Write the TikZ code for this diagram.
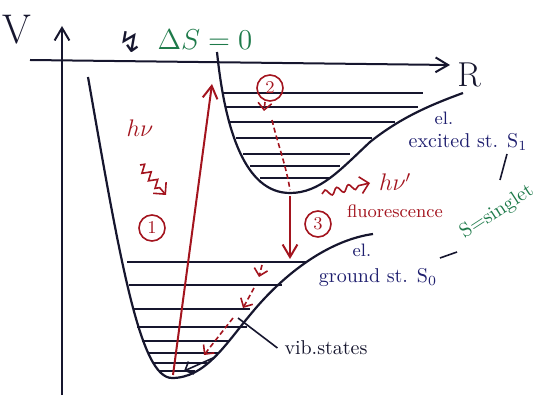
\documentclass[tikz,border=0pt]{standalone}
\usepackage{fontspec}
\usepackage{tikz}
\usetikzlibrary{arrows.meta,decorations.pathmorphing}
\newfontfamily\symbfont{DejaVu Sans}
\definecolor{pen}{HTML}{16162E}
\definecolor{inkred}{HTML}{A3141E}
\definecolor{inkgreen}{HTML}{1E7A4A}
\definecolor{inkblue}{HTML}{1E1E6E}

\begin{document}
\begin{tikzpicture}[x=0.5pt, y=-0.5pt,
  curve/.style={draw=pen, line width=1.1pt},
  vib/.style={draw=pen, line width=0.8pt},
  arr/.style={-{Straight Barb[length=2.2mm, width=2.6mm]}, line width=1pt},
  relax/.style={inkred, line width=0.8pt, dash pattern=on 2.5pt off 1.5pt},
  num/.style={draw=inkred, circle, text=inkred, line width=0.8pt, inner sep=0.5pt, minimum size=13pt, font=\small},
  lbl/.style={text=inkblue, font=\normalsize},
  wave/.style={decorate, decoration={snake, amplitude=1.6pt, segment length=6pt, post length=4pt}}]
\useasboundingbox (0,0) rectangle (557,406);
\coordinate (v0) at (62,395); \coordinate (vtop) at (62,26);
\coordinate (r0) at (30,60);  \coordinate (rend) at (450,65);
\draw[curve, arr] (v0) -- (vtop);
\draw[curve, arr] (r0) -- (rend);
\node[text=pen, font=\huge] (vlab) at (17,30) {V};
\node[text=pen, font=\LARGE] (rlab) at (469,75) {R};
\node[text=pen, font=\Large\symbfont] (forb) at (131,42) {↯};
\node[text=inkgreen, font=\Large] (dS) at (205,40) {$\Delta S=0$};
\draw[curve] (88,77) .. controls (120,260) and (140,378) .. (172,378)
  .. controls (205,378) and (225,345) .. (250,315)
  .. controls (285,272) and (330,240) .. (373,234);
\foreach \y/\xa/\xb in {262/127/307, 285/129/282, 309/133/250, 327/137/247, 341/142/230, 353/148/218, 363/153/207, 371/160/195}
  \draw[vib] (\xa,\y) -- (\xb,\y);
\draw[curve] (217,52) .. controls (225,130) and (245,193) .. (290,193)
  .. controls (320,193) and (340,170) .. (370,142)
  .. controls (400,118) and (430,105) .. (463,93);
\foreach \y/\xa/\xb in {93/223/423, 107/226/418, 122/230/395, 138/236/372, 154/243/350, 166/250/340, 178/260/330}
  \draw[vib] (\xa,\y) -- (\xb,\y);
\coordinate (abs0) at (173,375); \coordinate (abs1) at (212,84);
\draw[inkred, arr] (abs0) -- (abs1);
\node[num] (n1) at (152,228) {1};
\node[text=inkred, font=\large] (hnu) at (140,128) {$h\nu$};
\coordinate (zz0) at (140,165); \coordinate (zz1) at (166,195);
\draw[inkred, line width=0.8pt, -{Straight Barb[length=1.5mm]}, decorate, decoration={zigzag, amplitude=2pt, segment length=5pt, post length=3pt}] (zz0) -- (zz1);
\node[num] (n2) at (270,88) {2};
\coordinate (ic0) at (265,102); \coordinate (ic1) at (290,190);
\draw[relax, -{Straight Barb[length=1.2mm]}] (ic0) -- ++(-1,9);
\draw[relax] (272,120) .. controls (278,145) and (286,165) .. (ic1);
\coordinate (fl0) at (290,196); \coordinate (fl1) at (290,259);
\draw[inkred, arr] (fl0) -- (fl1);
\node[num] (n3) at (318,224) {3};
\coordinate (hv0) at (322,194); \coordinate (hv1) at (370,183);
\draw[inkred, line width=0.8pt, -{Straight Barb[length=1.5mm]}, wave] (hv0) -- (hv1);
\node[text=inkred, font=\large, anchor=west] (hnup) at (372,182) {$h\nu'$};
\node[text=inkred, font=\small] (fluor) at (395,211) {fluorescence};
\draw[relax, -{Straight Barb[length=1.2mm]}] (262,265) -- (259,277);
\draw[relax, -{Straight Barb[length=1.2mm]}] (254,288) -- (243,308);
\draw[relax, -{Straight Barb[length=1.2mm]}] (233,318) -- (204,355);
\draw[pen, line width=0.8pt, -{Straight Barb[length=1.2mm]}] (213,358) -- (184,371);
\node[lbl, font=\small] (el1) at (444,118) {el.};
\node[lbl] (exc) at (468,142) {excited st. S$_1$};
\node[lbl, font=\small] (el0) at (362,250) {el.};
\node[lbl] (gnd) at (378,278) {ground st. S$_0$};
\node[text=inkgreen, rotate=33, inner sep=0pt] (sing) at (497,212) {S=singlet};
\coordinate (tie1a) at (507,154); \coordinate (tie1b) at (500,180);
\coordinate (tie0a) at (440,258); \coordinate (tie0b) at (457,252);
\draw[pen, line width=0.8pt] (tie1a) -- (tie1b);
\draw[pen, line width=0.8pt] (tie0a) -- (tie0b);
\node[text=pen] (vibst) at (326,348) {vib.states};
\draw[pen, line width=0.8pt] (vibst.west) -- (238,318);
\end{tikzpicture}
\end{document}
